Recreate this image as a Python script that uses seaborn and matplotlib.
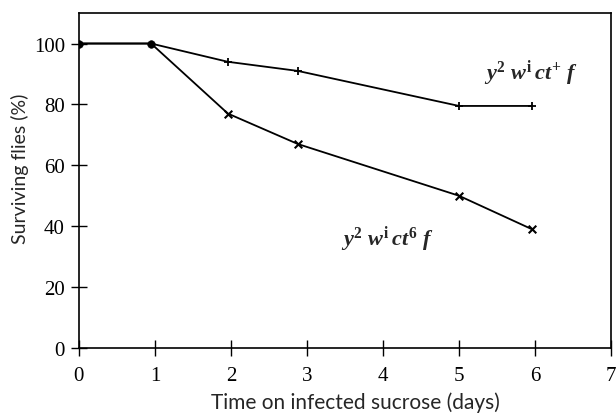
import matplotlib
matplotlib.use('Agg')
import matplotlib.pyplot as plt
import seaborn as sns
import pandas as pd

# values
days = [0, 0.95, 1.96, 2.88, 5.0, 5.96]
surv_ct_plus = [100, 100, 94, 91, 79.5, 79.5]
surv_ct_six = [100, 100, 77, 67, 50, 39]
x_ticks = [0, 1, 2, 3, 4, 5, 6, 7]
y_ticks = [0, 20, 40, 60, 80, 100]

df_plus = pd.DataFrame({'day': days, 'surv': surv_ct_plus})
df_six = pd.DataFrame({'day': days, 'surv': surv_ct_six})

sns.set_style('ticks')
plt.rcParams['font.family'] = ['Liberation Serif', 'DejaVu Serif']
plt.rcParams['mathtext.fontset'] = 'custom'
plt.rcParams['mathtext.it'] = 'Liberation Serif:italic:bold'
plt.rcParams['mathtext.rm'] = 'Liberation Serif:bold'

fig = plt.figure(figsize=(6.16, 4.14), dpi=100)
ax = fig.add_axes([0.128, 0.157, 0.864, 0.809])

sns.lineplot(data=df_plus, x='day', y='surv', color='black', lw=1.3, ax=ax)
sns.lineplot(data=df_six, x='day', y='surv', color='black', lw=1.3, ax=ax)

# markers: dots for the shared start, + and x for the two strains
sns.scatterplot(data=df_plus.iloc[:2], x='day', y='surv', marker='o', s=30,
                color='black', edgecolor='black', ax=ax, zorder=3)
sns.scatterplot(data=df_plus.iloc[2:], x='day', y='surv', marker='+', s=40,
                color='black', linewidth=1.3, ax=ax, zorder=3)
sns.scatterplot(data=df_six.iloc[2:], x='day', y='surv', marker='x', s=30,
                color='black', linewidth=1.5, ax=ax, zorder=3)

ax.text(5.33, 90.5, r'$y^2\ w^{\mathrm{i}}\,ct^{+}\ f$', fontsize=16, va='center')
ax.text(3.45, 36, r'$y^2\ w^{\mathrm{i}}\,ct^{6}\ f$', fontsize=16, va='center')

ax.set_xlim(0, 7)
ax.set_ylim(0, 110)
ax.set_xticks(x_ticks)
ax.set_yticks(y_ticks)
ax.tick_params(direction='inout', length=12, width=1, labelsize=15, colors='black')
ax.tick_params(axis='x', pad=7)
ax.tick_params(axis='y', pad=4)
for sp in ax.spines.values():
    sp.set_linewidth(1.2)
    sp.set_color('black')

sans = ['Lato', 'DejaVu Sans']
ax.set_xlabel('Time on infected sucrose (days)', fontsize=15, family=sans)
ax.set_ylabel('Surviving flies (%)', fontsize=14, family=sans)
ax.xaxis.set_label_coords(0.52, -0.13)
ax.yaxis.set_label_coords(-0.094, 0.537)

fig.savefig('out.png', dpi=100)
